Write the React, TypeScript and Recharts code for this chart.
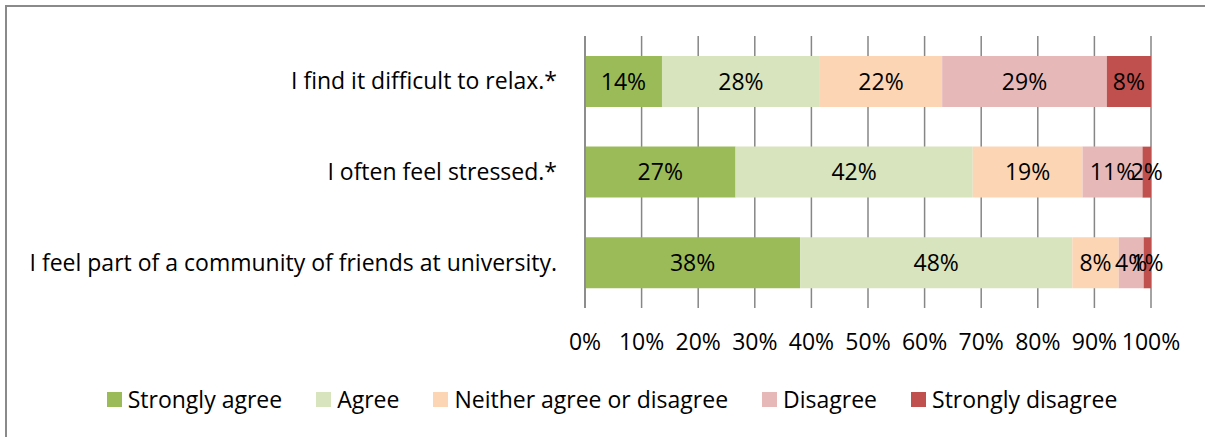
import React from 'react';
import { BarChart, Bar, XAxis, YAxis, CartesianGrid, Legend, LabelList } from 'recharts';

const statements = [
  'I find it difficult to relax.*',
  'I often feel stressed.*',
  'I feel part of a community of friends at university.',
];

const stronglyAgree = [13.6, 26.6, 38.0];
const agree = [27.9, 41.9, 48.1];
const neither = [21.6, 19.4, 8.2];
const disagree = [29.1, 10.6, 4.4];
const stronglyDisagree = [7.8, 1.5, 1.3];

const percentTicks = [0, 10, 20, 30, 40, 50, 60, 70, 80, 90, 100];

const seriesList = [
  { key: 'stronglyAgree', name: 'Strongly agree', color: '#9BBB59', values: stronglyAgree },
  { key: 'agree', name: 'Agree', color: '#D7E4BD', values: agree },
  { key: 'neither', name: 'Neither agree or disagree', color: '#FCD5B5', values: neither },
  { key: 'disagree', name: 'Disagree', color: '#E6B9B8', values: disagree },
  { key: 'stronglyDisagree', name: 'Strongly disagree', color: '#C0504D', values: stronglyDisagree },
];

const chartData = statements.map((s, i) => {
  const row: Record<string, string | number> = { statement: s };
  seriesList.forEach(sr => {
    row[sr.key] = sr.values[i];
  });
  return row;
});

const FONT = '"Open Sans", sans-serif';
const FS = 23;

const renderLegend = () => (
  <div style={{ display: 'flex', justifyContent: 'center', alignItems: 'center', fontFamily: FONT, fontSize: FS, color: '#000', height: 32 }}>
    {seriesList.map((sr, i) => (
      <div key={sr.key} style={{ display: 'flex', alignItems: 'center', marginLeft: i === 0 ? 0 : 34 }}>
        <span style={{ width: 15, height: 15, background: sr.color, display: 'inline-block', marginRight: 6 }} />
        <span>{sr.name}</span>
      </div>
    ))}
  </div>
);

export default function App() {
  return (
    <div style={{ position: 'fixed', left: 0, top: 0, width: 1205, height: 437, overflow: 'hidden', background: '#fff' }}>
      <div style={{ position: 'absolute', left: 5, top: 5, width: 1210, height: 445, border: '2px solid #8a8a8a' }}>
        <BarChart
          width={1210}
          height={445}
          layout="vertical"
          data={chartData}
          margin={{ top: 29, right: 66, bottom: 0, left: 0 }}
          barCategoryGap="22%"
        >
          <CartesianGrid horizontal={false} stroke="#868686" strokeWidth={1.5} />
          <XAxis
            type="number"
            domain={[0, 100]}
            ticks={percentTicks}
            interval={0}
            tickFormatter={(v: number) => `${v}%`}
            axisLine={false}
            tickLine={false}
            tickSize={0}
            tickMargin={26}
            height={112}
            tick={{ fill: '#000', fontFamily: FONT, fontSize: FS }}
          />
          <YAxis
            type="category"
            dataKey="statement"
            width={578}
            axisLine={{ stroke: '#868686', strokeWidth: 1.5 }}
            tickLine={false}
            tickSize={0}
            tickMargin={28}
            tick={{ fill: '#000', fontFamily: FONT, fontSize: FS }}
          />
          <Legend verticalAlign="bottom" height={32} content={renderLegend} wrapperStyle={{ left: 0, width: 1210, top: 376 }} />
          {seriesList.map(sr => (
            <Bar key={sr.key} dataKey={sr.key} name={sr.name} stackId="a" fill={sr.color} isAnimationActive={false}>
              <LabelList
                dataKey={sr.key}
                position="center"
                formatter={(v: number) => `${Math.round(v)}%`}
                style={{ fill: '#000', fontFamily: FONT, fontSize: FS }}
              />
            </Bar>
          ))}
        </BarChart>
      </div>
    </div>
  );
}
